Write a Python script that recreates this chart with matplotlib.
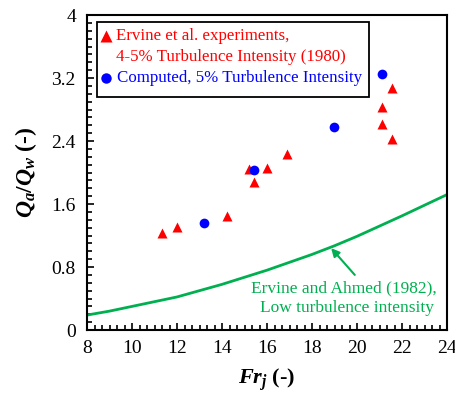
import numpy as np
import matplotlib.pyplot as plt
from matplotlib.patches import Rectangle
from matplotlib.ticker import MultipleLocator

plt.rcParams['font.family'] = ['Liberation Serif', 'DejaVu Serif']
plt.rcParams['mathtext.fontset'] = 'custom'
plt.rcParams['mathtext.it'] = 'Liberation Serif:italic:bold'
plt.rcParams['mathtext.rm'] = 'Liberation Serif:bold'
plt.rcParams['mathtext.bf'] = 'Liberation Serif:bold'

RED = '#ff0000'
BLUE = '#0000ff'
GREEN = '#00b050'

# Ervine et al. (1980) experiments, 4-5% turbulence intensity
fr_exp = [11.35, 12.0, 14.2, 15.2, 15.42, 16.0, 16.9, 21.1, 21.55, 21.12, 21.55]
q_exp = [1.23, 1.31, 1.45, 2.04, 1.88, 2.06, 2.23, 2.61, 2.43, 2.83, 3.07]

# Computed, 5% turbulence intensity
fr_cmp = [13.2, 15.42, 18.98, 21.12]
q_cmp = [1.355, 2.03, 2.58, 3.25]

# Ervine and Ahmed (1982), low turbulence intensity
fr_low = [8, 9, 10, 11, 12, 13, 14, 15, 16, 17, 18, 19, 20, 21, 22, 23, 24]
q_low = [0.19, 0.24, 0.30, 0.36, 0.42, 0.50, 0.58, 0.67, 0.76, 0.86, 0.96,
         1.07, 1.19, 1.32, 1.45, 1.585, 1.72]

x_ticks = [8, 10, 12, 14, 16, 18, 20, 22, 24]
y_ticks = [0, 0.8, 1.6, 2.4, 3.2, 4]
y_tick_labels = ['0', '0.8', '1.6', '2.4', '3.2', '4']

fig = plt.figure(figsize=(4.56, 4.01), dpi=100)
ax = fig.add_axes([0.1908, 0.177, 0.7895, 0.7855])

ax.plot(fr_low, q_low, color=GREEN, lw=2.0, zorder=2)
ax.plot(fr_exp, q_exp, '^', color=RED, ms=7.5, mec='none', zorder=3)
ax.plot(fr_cmp, q_cmp, 'o', color=BLUE, ms=7, mec='none', zorder=3)

ax.annotate('', xy=(18.85, 1.04), xytext=(19.9, 0.70),
            arrowprops=dict(arrowstyle='-|>', color=GREEN, lw=1.5,
                            mutation_scale=12, shrinkA=0, shrinkB=0))
ax.text(19.42, 0.53, 'Ervine and Ahmed (1982),', color=GREEN, fontsize=12.5,
        ha='center', va='center')
ax.text(19.55, 0.28, 'Low turbulence intensity', color=GREEN, fontsize=12.5,
        ha='center', va='center')

# legend box
ax.add_patch(Rectangle((0.028, 0.74), 0.755, 0.238, transform=ax.transAxes,
                       fill=False, ec='black', lw=1.3, zorder=4))
ax.plot([0.053], [0.933], '^', color=RED, ms=8.5, mec='none',
        transform=ax.transAxes, clip_on=False)
ax.text(0.080, 0.933, 'Ervine et al. experiments,', color=RED, fontsize=12.2,
        va='center', transform=ax.transAxes)
ax.text(0.080, 0.868, '4-5% Turbulence Intensity (1980)', color=RED,
        fontsize=12.2, va='center', transform=ax.transAxes)
ax.plot([0.053], [0.800], 'o', color=BLUE, ms=7.5, mec='none',
        transform=ax.transAxes, clip_on=False)
ax.text(0.084, 0.800, 'Computed, 5% Turbulence Intensity', color=BLUE,
        fontsize=12.2, va='center', transform=ax.transAxes)

ax.set_xlim(8, 24)
ax.set_ylim(0, 4)
ax.set_xticks(x_ticks)
ax.set_xticklabels([str(t) for t in x_ticks])
ax.set_yticks(y_ticks)
ax.set_yticklabels(y_tick_labels)
ax.xaxis.set_minor_locator(MultipleLocator(1 / 3))
ax.yaxis.set_minor_locator(MultipleLocator(0.1))

ax.tick_params(which='both', direction='in', top=False, right=False,
               labelsize=14, width=1.2)
ax.tick_params(which='major', length=5)
ax.tick_params(axis='y', which='major', pad=8)
ax.tick_params(axis='x', which='major', pad=7)
ax.tick_params(which='minor', length=3.5)
for s in ax.spines.values():
    s.set_linewidth(1.5)

ax.set_xlabel(r'$Fr_j$ (-)', fontsize=16, fontweight='bold', labelpad=7)
ax.set_ylabel(r'$Q_a/Q_w$ (-)', fontsize=17, fontweight='bold', labelpad=9)

fig.savefig('out.png', dpi=100)
